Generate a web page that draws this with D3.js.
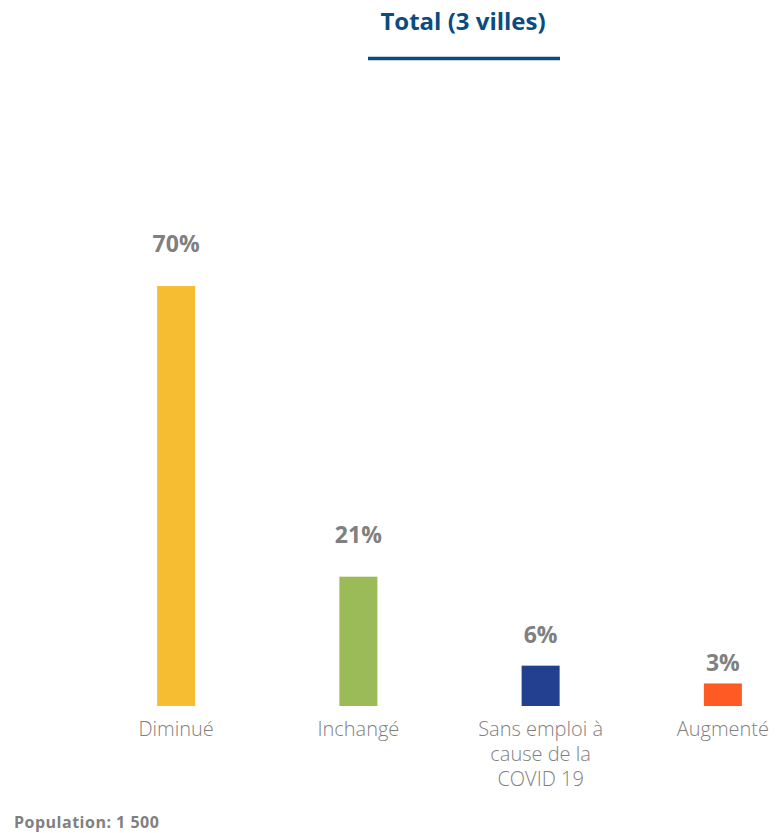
<!DOCTYPE html>
<html>
<head>
<meta charset="utf-8">
<script src="https://cdn.jsdelivr.net/npm/d3@7"></script>
<style>
  html, body { margin: 0; padding: 0; background: #fff; }
  svg { display: block; font-family: "Open Sans", Lato, sans-serif; }
</style>
</head>
<body>
<svg id="chart" width="777" height="833"></svg>
<script>
// Chart data
const categories = ["Diminué", "Inchangé", "Sans emploi à cause de la COVID 19", "Augmenté"];
const categoryLines = [["Diminué"], ["Inchangé"], ["Sans emploi à", "cause de la", "COVID 19"], ["Augmenté"]];
const values = [70, 21, 6, 3];
const colors = ["#F6BD33", "#9BBB59", "#233F8F", "#FF5A24"];
const title = "Total (3 villes)";
const footnote = "Population: 1 500";

const svg = d3.select("#chart");

// Title with underline
svg.append("text")
  .attr("x", 463).attr("y", 30)
  .attr("text-anchor", "middle")
  .attr("font-size", 24).attr("font-weight", 700)
  .attr("fill", "#0B4C80")
  .text(title);
svg.append("line")
  .attr("x1", 368).attr("x2", 560)
  .attr("y1", 58.5).attr("y2", 58.5)
  .attr("stroke", "#0B4C80").attr("stroke-width", 3.5);

// Scales
const x = d3.scaleBand().domain(categories).range([85, 814]);
const y = d3.scaleLinear().domain([-0.8, 70]).range([706, 286]);
const barW = 38;
const base = y.range()[0];

const g = svg.append("g");

g.selectAll("rect.bar")
  .data(values)
  .join("rect")
  .attr("class", "bar")
  .attr("x", (d, i) => x(categories[i]) + x.bandwidth() / 2 - barW / 2)
  .attr("width", barW)
  .attr("y", d => y(d))
  .attr("height", d => base - y(d))
  .attr("fill", (d, i) => colors[i]);

// Value labels: sit above each bar, closer for short bars
g.selectAll("text.val")
  .data(values)
  .join("text")
  .attr("class", "val")
  .attr("x", (d, i) => x(categories[i]) + x.bandwidth() / 2)
  .attr("y", d => y(d) - Math.min(34, (base - y(d)) * 0.55))
  .attr("text-anchor", "middle")
  .attr("font-size", 23).attr("font-weight", 700)
  .attr("fill", "#808080")
  .text(d => d + "%");

// Category labels
const cat = g.selectAll("text.cat")
  .data(categories)
  .join("text")
  .attr("class", "cat")
  .attr("x", d => x(d) + x.bandwidth() / 2)
  .attr("y", 736)
  .attr("text-anchor", "middle")
  .attr("font-size", 20).attr("font-weight", 300)
  .attr("fill", "#7F7F7F");
cat.each(function(d, i) {
  d3.select(this).selectAll("tspan")
    .data(categoryLines[i])
    .join("tspan")
    .attr("x", x(d) + x.bandwidth() / 2)
    .attr("dy", (l, j) => j === 0 ? 0 : 25)
    .text(l => l);
});

// Footnote
svg.append("text")
  .attr("x", 14).attr("y", 828)
  .attr("font-size", 16).attr("font-weight", 700)
  .attr("letter-spacing", 0.5)
  .attr("fill", "#808080")
  .text(footnote);
</script>
</body>
</html>
